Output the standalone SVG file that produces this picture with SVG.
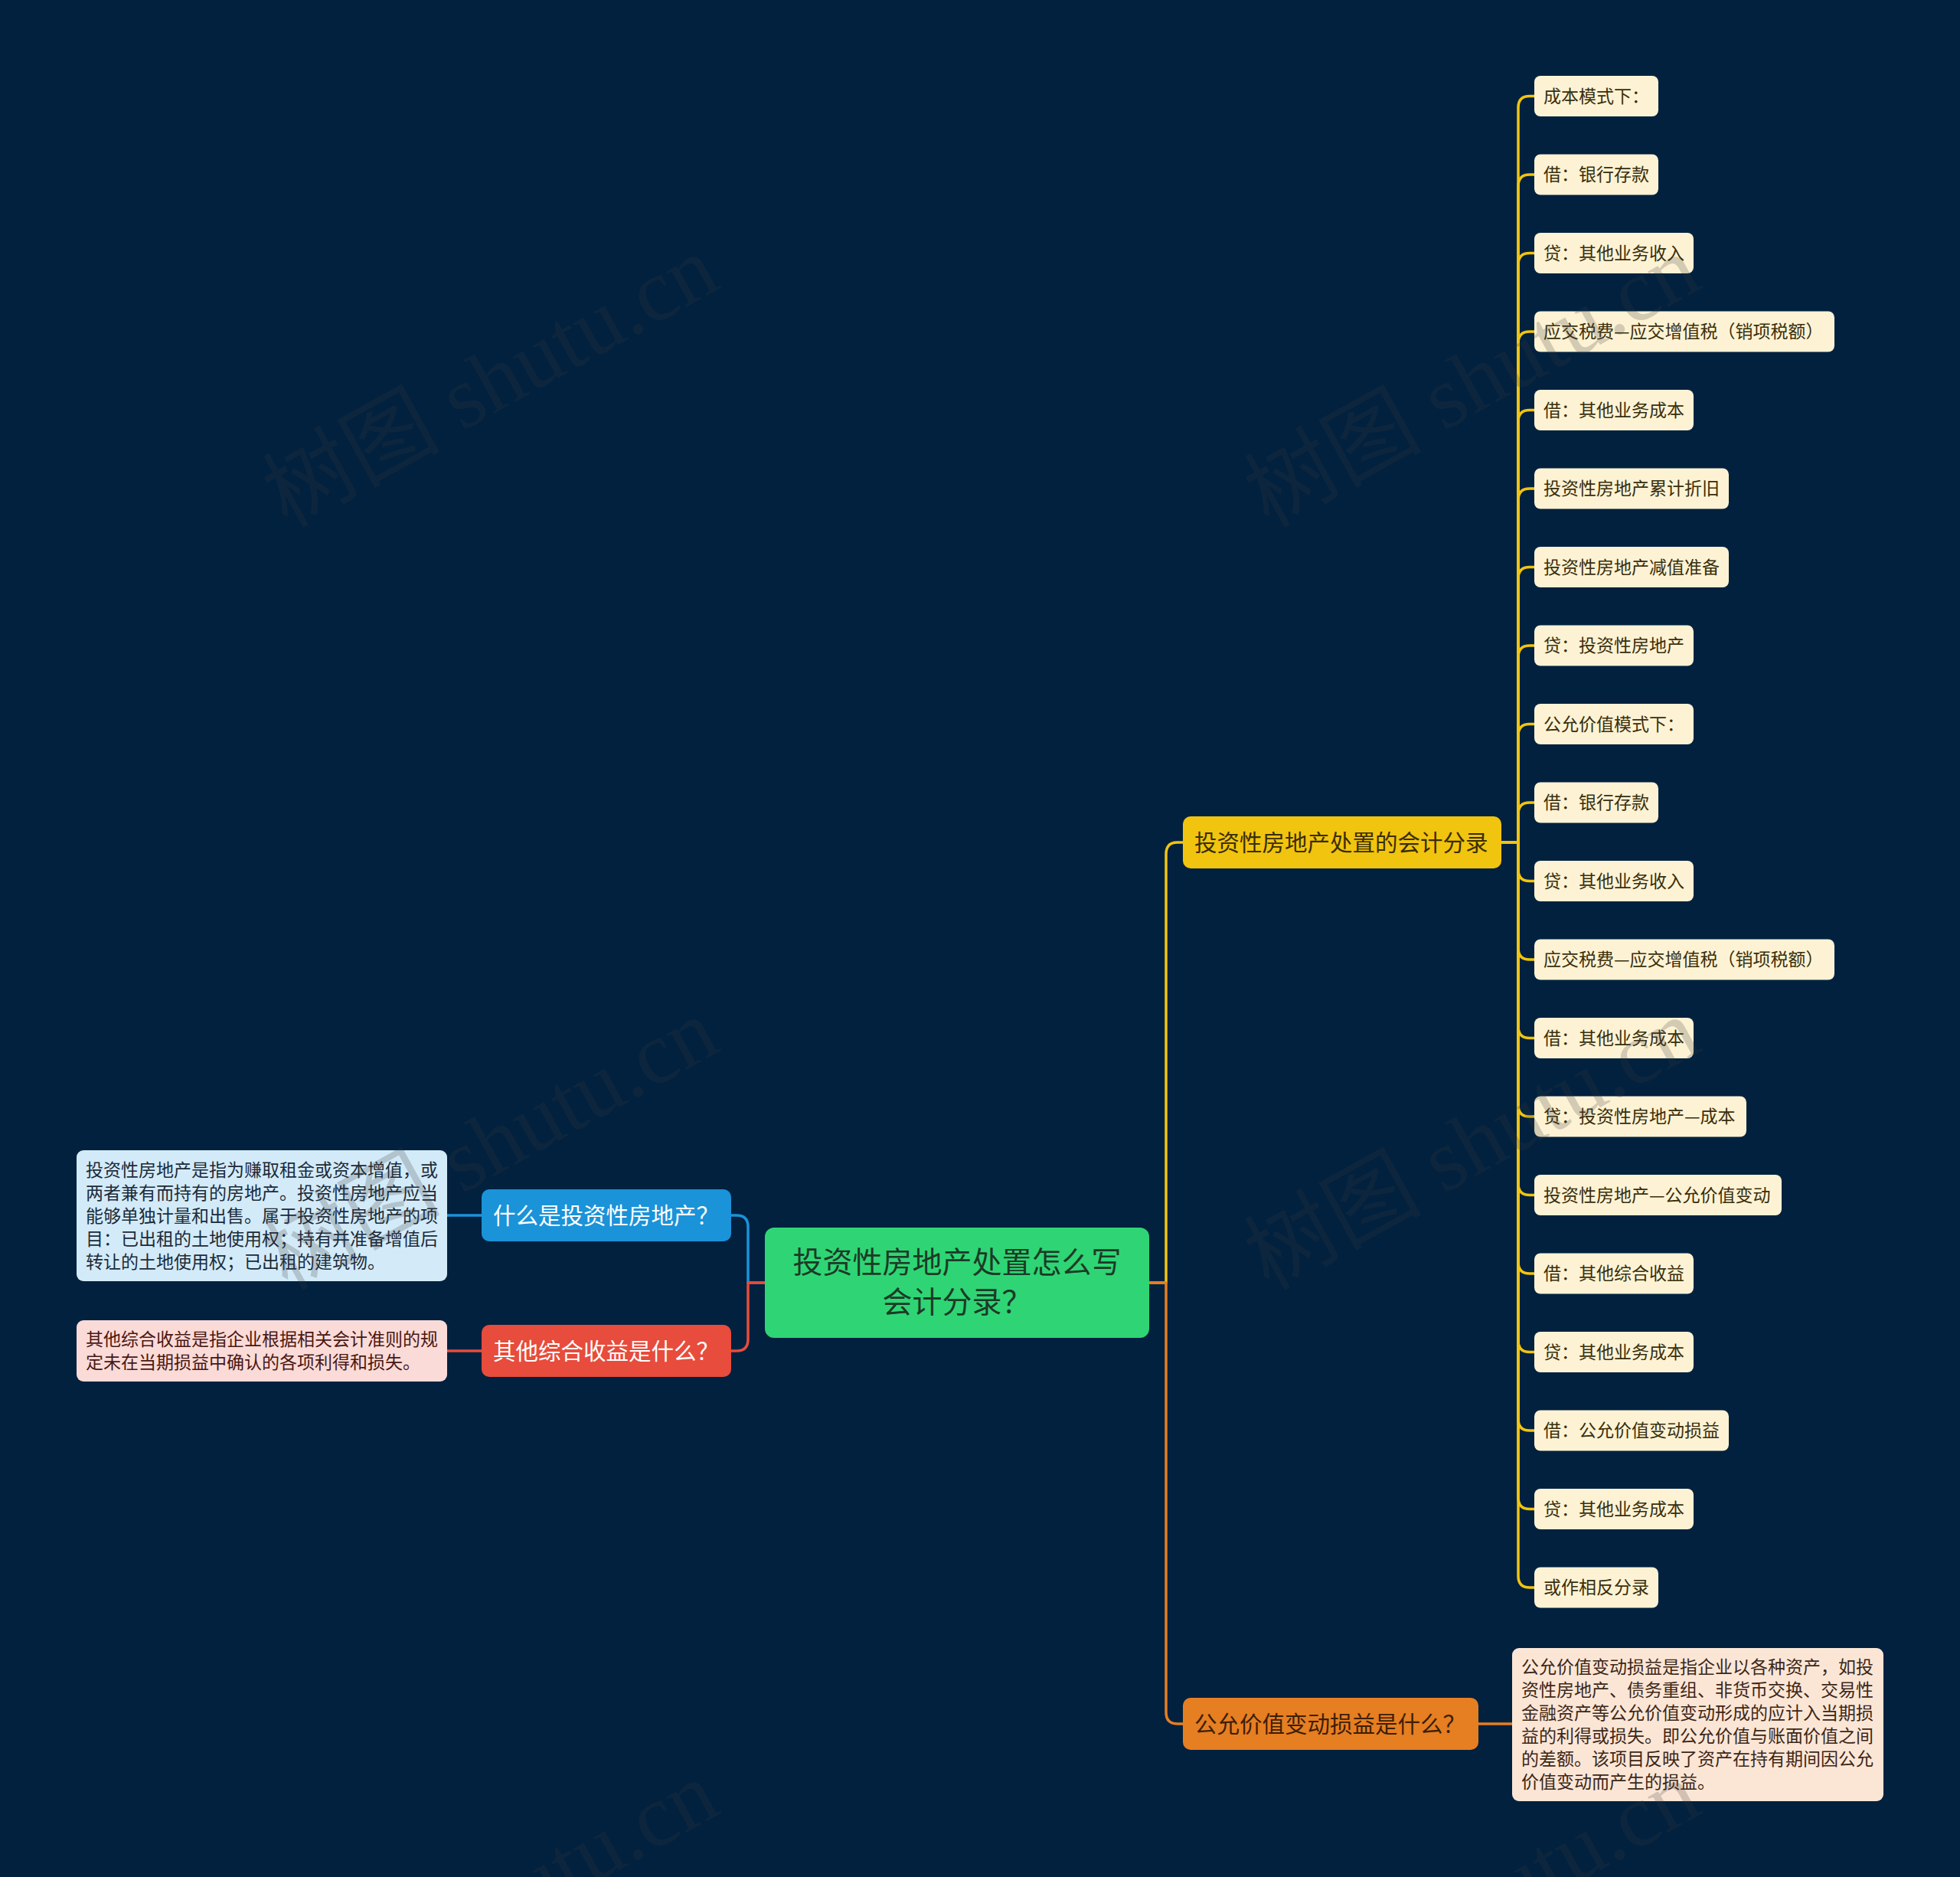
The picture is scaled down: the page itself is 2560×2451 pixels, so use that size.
<svg xmlns="http://www.w3.org/2000/svg" width="2560" height="2451" viewBox="0 0 2560 2451">
<style>
.t{font-family:"Noto Sans CJK SC","Noto Sans",sans-serif;dominant-baseline:central;transform:translate(0px,-2px)}
.leaf rect{fill:#fdf3d4}
.leaf text{font-size:23px;fill:#3a2e0c}
.desc{font-size:23px}
.c{fill:none;stroke-width:3.5;stroke-linejoin:round}
.cy{stroke:#f1c40f}
.co{stroke:#e67e22}
.cb{stroke:#1a93d8}
.cr{stroke:#e74c3c}
.wm{font-family:"Liberation Serif","Noto Sans CJK SC",serif;font-size:116px;fill:#3c3c3c;fill-opacity:0.22}
</style>
<rect x="0" y="0" width="2560" height="2451" fill="#01213f"/>

<g id="connectors">
  <path class="c cb" d="M999 1675 H977 V1602 Q977 1587 962 1587 H955"/>
  <path class="c cr" d="M999 1675 H977 V1749 Q977 1764 962 1764 H955"/>
  <path class="c cb" d="M629 1587 H584"/>
  <path class="c cr" d="M629 1764 H584"/>
  <path class="c cy" d="M1501 1675 H1523 V1115 Q1523 1100 1538 1100 H1545"/>
  <path class="c co" d="M1501 1675 H1523 V2236 Q1523 2251 1538 2251 H1545"/>
  <path class="c co" d="M1931 2251 H1975"/>
  <path class="c cy" d="M1961 1100 H1983 V140.5 Q1983 125.5 1998 125.5 H2004"/>
  <path class="c cy" d="M1961 1100 H1983 V243 Q1983 228 1998 228 H2004"/>
  <path class="c cy" d="M1961 1100 H1983 V345.5 Q1983 330.5 1998 330.5 H2004"/>
  <path class="c cy" d="M1961 1100 H1983 V448 Q1983 433 1998 433 H2004"/>
  <path class="c cy" d="M1961 1100 H1983 V550.5 Q1983 535.5 1998 535.5 H2004"/>
  <path class="c cy" d="M1961 1100 H1983 V653 Q1983 638 1998 638 H2004"/>
  <path class="c cy" d="M1961 1100 H1983 V755.5 Q1983 740.5 1998 740.5 H2004"/>
  <path class="c cy" d="M1961 1100 H1983 V858 Q1983 843 1998 843 H2004"/>
  <path class="c cy" d="M1961 1100 H1983 V960.5 Q1983 945.5 1998 945.5 H2004"/>
  <path class="c cy" d="M1961 1100 H1983 V1063 Q1983 1048 1998 1048 H2004"/>
  <path class="c cy" d="M1961 1100 H1983 V1135.5 Q1983 1150.5 1998 1150.5 H2004"/>
  <path class="c cy" d="M1961 1100 H1983 V1238 Q1983 1253 1998 1253 H2004"/>
  <path class="c cy" d="M1961 1100 H1983 V1340.5 Q1983 1355.5 1998 1355.5 H2004"/>
  <path class="c cy" d="M1961 1100 H1983 V1443 Q1983 1458 1998 1458 H2004"/>
  <path class="c cy" d="M1961 1100 H1983 V1545.5 Q1983 1560.5 1998 1560.5 H2004"/>
  <path class="c cy" d="M1961 1100 H1983 V1648 Q1983 1663 1998 1663 H2004"/>
  <path class="c cy" d="M1961 1100 H1983 V1750.5 Q1983 1765.5 1998 1765.5 H2004"/>
  <path class="c cy" d="M1961 1100 H1983 V1853 Q1983 1868 1998 1868 H2004"/>
  <path class="c cy" d="M1961 1100 H1983 V1955.5 Q1983 1970.5 1998 1970.5 H2004"/>
  <path class="c cy" d="M1961 1100 H1983 V2058 Q1983 2073 1998 2073 H2004"/>
</g>

<g id="root">
  <rect x="999" y="1603" width="502" height="144" rx="12" fill="#2fd574"/>
  <text class="t" x="1250" y="1647" font-size="39" text-anchor="middle" fill="#1c3a27">投资性房地产处置怎么写</text>
  <text class="t" x="1250" y="1699" font-size="39" text-anchor="middle" fill="#1c3a27">会计分录？</text>
</g>

<g id="n-what">
  <rect x="629" y="1553" width="326" height="68" rx="10" fill="#1a93d8"/>
  <text class="t" x="644" y="1587" font-size="29.5" fill="#ffffff">什么是投资性房地产？</text>
</g>
<g id="n-what-desc">
  <rect x="100" y="1502" width="484" height="171" rx="9" fill="#d3ebf8"/>
  <g class="t desc" fill="#1b2a3a">
    <text x="112" y="1528">投资性房地产是指为赚取租金或资本增值，或</text>
    <text x="112" y="1558">两者兼有而持有的房地产。投资性房地产应当</text>
    <text x="112" y="1588">能够单独计量和出售。属于投资性房地产的项</text>
    <text x="112" y="1618">目：已出租的土地使用权；持有并准备增值后</text>
    <text x="112" y="1648">转让的土地使用权；已出租的建筑物。</text>
  </g>
</g>

<g id="n-oci">
  <rect x="629" y="1730" width="326" height="68" rx="10" fill="#e74c3c"/>
  <text class="t" x="644" y="1764" font-size="29.5" fill="#ffffff">其他综合收益是什么？</text>
</g>
<g id="n-oci-desc">
  <rect x="100" y="1724" width="484" height="80" rx="9" fill="#fadbd8"/>
  <g class="t desc" fill="#4a1712">
    <text x="112" y="1749">其他综合收益是指企业根据相关会计准则的规</text>
    <text x="112" y="1779">定未在当期损益中确认的各项利得和损失。</text>
  </g>
</g>

<g id="n-entries">
  <rect x="1545" y="1066" width="416" height="68" rx="10" fill="#f1c40f"/>
  <text class="t" x="1560" y="1100" font-size="29.5" fill="#3a2d03">投资性房地产处置的会计分录</text>
</g>

<g id="n-fv">
  <rect x="1545" y="2217" width="386" height="68" rx="10" fill="#e67e22"/>
  <text class="t" x="1560" y="2251" font-size="29.5" fill="#3d1f05">公允价值变动损益是什么？</text>
</g>
<g id="n-fv-desc">
  <rect x="1975" y="2152" width="485" height="200" rx="9" fill="#fbe6d6"/>
  <g class="t desc" fill="#3d2616">
    <text x="1987" y="2177">公允价值变动损益是指企业以各种资产，如投</text>
    <text x="1987" y="2207">资性房地产、债务重组、非货币交换、交易性</text>
    <text x="1987" y="2237">金融资产等公允价值变动形成的应计入当期损</text>
    <text x="1987" y="2267">益的利得或损失。即公允价值与账面价值之间</text>
    <text x="1987" y="2297">的差额。该项目反映了资产在持有期间因公允</text>
    <text x="1987" y="2327">价值变动而产生的损益。</text>
  </g>
</g>

<g id="leaf-1" class="leaf"><rect x="2004" y="99" width="162" height="53" rx="8"/><text class="t" x="2016" y="125.5">成本模式下：</text></g>
<g id="leaf-2" class="leaf"><rect x="2004" y="201.5" width="162" height="53" rx="8"/><text class="t" x="2016" y="228">借：银行存款</text></g>
<g id="leaf-3" class="leaf"><rect x="2004" y="304" width="208" height="53" rx="8"/><text class="t" x="2016" y="330.5">贷：其他业务收入</text></g>
<g id="leaf-4" class="leaf"><rect x="2004" y="406.5" width="392" height="53" rx="8"/><text class="t" x="2016" y="433">应交税费—应交增值税（销项税额）</text></g>
<g id="leaf-5" class="leaf"><rect x="2004" y="509" width="208" height="53" rx="8"/><text class="t" x="2016" y="535.5">借：其他业务成本</text></g>
<g id="leaf-6" class="leaf"><rect x="2004" y="611.5" width="254" height="53" rx="8"/><text class="t" x="2016" y="638">投资性房地产累计折旧</text></g>
<g id="leaf-7" class="leaf"><rect x="2004" y="714" width="254" height="53" rx="8"/><text class="t" x="2016" y="740.5">投资性房地产减值准备</text></g>
<g id="leaf-8" class="leaf"><rect x="2004" y="816.5" width="208" height="53" rx="8"/><text class="t" x="2016" y="843">贷：投资性房地产</text></g>
<g id="leaf-9" class="leaf"><rect x="2004" y="919" width="208" height="53" rx="8"/><text class="t" x="2016" y="945.5">公允价值模式下：</text></g>
<g id="leaf-10" class="leaf"><rect x="2004" y="1021.5" width="162" height="53" rx="8"/><text class="t" x="2016" y="1048">借：银行存款</text></g>
<g id="leaf-11" class="leaf"><rect x="2004" y="1124" width="208" height="53" rx="8"/><text class="t" x="2016" y="1150.5">贷：其他业务收入</text></g>
<g id="leaf-12" class="leaf"><rect x="2004" y="1226.5" width="392" height="53" rx="8"/><text class="t" x="2016" y="1253">应交税费—应交增值税（销项税额）</text></g>
<g id="leaf-13" class="leaf"><rect x="2004" y="1329" width="208" height="53" rx="8"/><text class="t" x="2016" y="1355.5">借：其他业务成本</text></g>
<g id="leaf-14" class="leaf"><rect x="2004" y="1431.5" width="277" height="53" rx="8"/><text class="t" x="2016" y="1458">贷：投资性房地产—成本</text></g>
<g id="leaf-15" class="leaf"><rect x="2004" y="1534" width="323" height="53" rx="8"/><text class="t" x="2016" y="1560.5">投资性房地产—公允价值变动</text></g>
<g id="leaf-16" class="leaf"><rect x="2004" y="1636.5" width="208" height="53" rx="8"/><text class="t" x="2016" y="1663">借：其他综合收益</text></g>
<g id="leaf-17" class="leaf"><rect x="2004" y="1739" width="208" height="53" rx="8"/><text class="t" x="2016" y="1765.5">贷：其他业务成本</text></g>
<g id="leaf-18" class="leaf"><rect x="2004" y="1841.5" width="254" height="53" rx="8"/><text class="t" x="2016" y="1868">借：公允价值变动损益</text></g>
<g id="leaf-19" class="leaf"><rect x="2004" y="1944" width="208" height="53" rx="8"/><text class="t" x="2016" y="1970.5">贷：其他业务成本</text></g>
<g id="leaf-20" class="leaf"><rect x="2004" y="2046.5" width="162" height="53" rx="8"/><text class="t" x="2016" y="2073">或作相反分录</text></g>

<g id="watermarks">
  <text class="wm" x="375" y="690" transform="rotate(-29 375 690)">树图 shutu.cn</text>
  <text class="wm" x="1657" y="690" transform="rotate(-29 1657 690)">树图 shutu.cn</text>
  <text class="wm" x="375" y="1686" transform="rotate(-29 375 1686)">树图 shutu.cn</text>
  <text class="wm" x="1657" y="1686" transform="rotate(-29 1657 1686)">树图 shutu.cn</text>
  <text class="wm" x="375" y="2682" transform="rotate(-29 375 2682)">树图 shutu.cn</text>
  <text class="wm" x="1657" y="2682" transform="rotate(-29 1657 2682)">树图 shutu.cn</text>
</g>
</svg>
